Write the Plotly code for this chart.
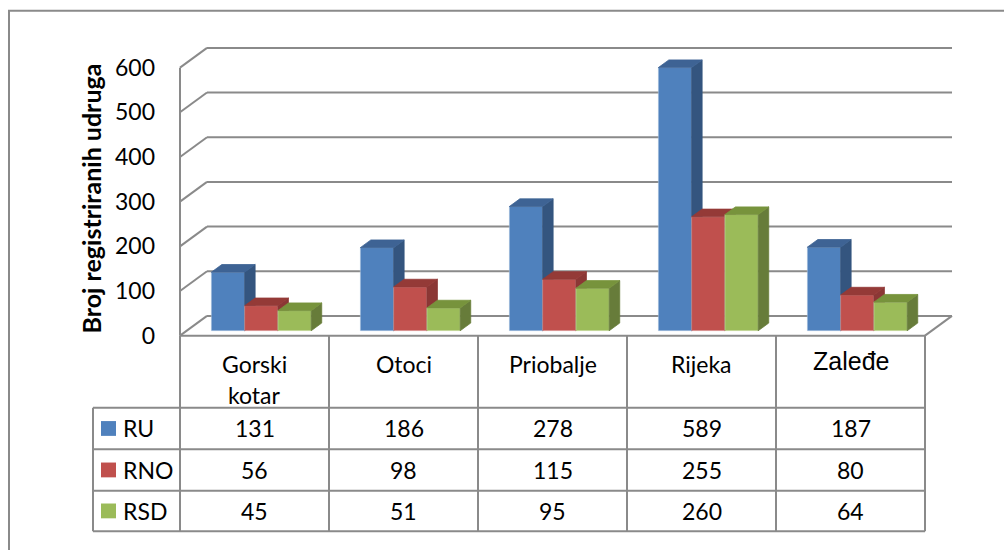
import plotly.graph_objects as go

# ---------------- data ----------------
categories = ["Gorski<br>kotar", "Otoci", "Priobalje", "Rijeka", "Zaleđe"]
series_names = ["RU", "RNO", "RSD"]
ru = [131, 186, 278, 589, 187]
rno = [56, 98, 115, 255, 80]
rsd = [45, 51, 95, 260, 64]
y_ticks = [0, 100, 200, 300, 400, 500, 600]
y_title = "Broj registriranih udruga"

# ---------------- styles / layout constants ----------------
series_values = [ru, rno, rsd]
front_colors = ["#4F81BD", "#C0504D", "#9BBB59"]
side_colors = ["#34557F", "#8B3735", "#677C3A"]
top_colors = ["#3E6394", "#943A37", "#77933C"]
edge_colors = ["rgba(200,215,235,0.55)", "rgba(240,200,200,0.55)", "rgba(225,238,200,0.55)"]
GRID = "#8A8A8A"
FONT = "Lato"
FS = 23

W, H = 1004, 550
OFF = 0            # body margin is reset to 0 in the page (post_script)
CAT_PX = 149.0     # pixels per category
VAL_PX = 0.4525    # pixels per unit of value
X0_PX = 180.0      # screen x of the front-left corner (x = -0.5)
Y0_PX = 340.0      # screen y of value 0 on the front plane
DEPTH_DX = 27.0    # 3D depth shift (px) front -> back wall
DEPTH_DY = 20.0
BAR_D0, BAR_D1 = 0.25, 0.64
BAR_W = 33.3 / CAT_PX
LINE_GAP = 32


def x_of_px(p):
    return -0.5 + (p - X0_PX) / CAT_PX


def v_of_px(p):
    return (Y0_PX - p) / VAL_PX


def pt(x, v, d):
    return (x + DEPTH_DX * d / CAT_PX, v + DEPTH_DY * d / VAL_PX)


def px_x(p):
    return (p - OFF) / W


def px_y(p):
    return 1 - (p - OFF) / H


def poly_trace(polys, color, line_color):
    xs, ys = [], []
    for poly in polys:
        for (x, y) in poly + [poly[0]]:
            xs.append(x)
            ys.append(y)
        xs.append(None)
        ys.append(None)
    return go.Scatter(x=xs, y=ys, mode="lines", fill="toself", fillcolor=color,
                      line=dict(color=line_color, width=0.8),
                      hoverinfo="skip", showlegend=False)


fig = go.Figure()

# ---------------- 3D bars ----------------
n = len(categories)
for k, vals in enumerate(series_values):
    fronts, sides, tops = [], [], []
    for i, v in enumerate(vals):
        xl = i + (k - 1.5) * BAR_W
        xr = xl + BAR_W
        fronts.append([pt(xl, 0, BAR_D0), pt(xr, 0, BAR_D0), pt(xr, v, BAR_D0), pt(xl, v, BAR_D0)])
        sides.append([pt(xr, 0, BAR_D0), pt(xr, 0, BAR_D1), pt(xr, v, BAR_D1), pt(xr, v, BAR_D0)])
        tops.append([pt(xl, v, BAR_D0), pt(xr, v, BAR_D0), pt(xr, v, BAR_D1), pt(xl, v, BAR_D1)])
    fig.add_trace(poly_trace(fronts, front_colors[k], edge_colors[k]))
    fig.add_trace(poly_trace(sides, side_colors[k], side_colors[k]))
    fig.add_trace(poly_trace(tops, top_colors[k], top_colors[k]))

# ---------------- walls / gridlines ----------------
shapes = []


def dline(a, b, layer="below"):
    shapes.append(dict(type="line", xref="x", yref="y", x0=a[0], y0=a[1], x1=b[0], y1=b[1],
                       line=dict(color=GRID, width=2), layer=layer))


xL, xR = -0.5, n - 0.5
for t in y_ticks:
    dline(pt(xL, t, 0), pt(xL, t, 1))
    dline(pt(xL, t, 1), pt(xR, t, 1))
dline(pt(xL, 0, 0), pt(xL, y_ticks[-1], 0))
dline(pt(xL, 0, 0), pt(xR, 0, 0))
dline(pt(xR, 0, 0), pt(xR, 0, 1))

# ---------------- data table ----------------
col_edges = [X0_PX + CAT_PX * c for c in range(n + 1)]
head_top = 340
row_edges = [413, 455, 497, 538]
left_x = 93


def pline(x0, y0, x1, y1):
    shapes.append(dict(type="line", xref="paper", yref="paper",
                       x0=px_x(x0), y0=px_y(y0), x1=px_x(x1), y1=px_y(y1),
                       line=dict(color=GRID, width=2), layer="above"))


for ry in row_edges:
    pline(left_x, ry, col_edges[-1], ry)
pline(left_x, row_edges[0], left_x, row_edges[-1])
for cx in col_edges:
    pline(cx, head_top, cx, row_edges[-1])

# outer border (chart area frame)
shapes.append(dict(type="rect", xref="paper", yref="paper", x0=px_x(9), y0=px_y(11),
                   x1=px_x(W + 20), y1=px_y(H + 20), line=dict(color=GRID, width=2),
                   fillcolor="rgba(0,0,0,0)", layer="below"))

annotations = []
# header labels
for i, cat in enumerate(categories):
    cx = (col_edges[i] + col_edges[i + 1]) / 2
    if cat == "Zaleđe":
        f = dict(family="Liberation Sans, Arial", size=25, color="black")
        ytop = 349
    else:
        f = dict(family=FONT, size=FS, color="black")
        ytop = 352
    for j, line in enumerate(cat.split("<br>")):
        annotations.append(dict(text=line, xref="paper", yref="paper", x=px_x(cx),
                                y=px_y(ytop + j * LINE_GAP),
                                xanchor="center", yanchor="top", showarrow=False, font=f))

# rows
for k, (name, vals) in enumerate(zip(series_names, series_values)):
    rc = (row_edges[k] + row_edges[k + 1]) / 2
    shapes.append(dict(type="rect", xref="paper", yref="paper",
                       x0=px_x(101), x1=px_x(116), y0=px_y(rc - 7.5), y1=px_y(rc + 7.5),
                       fillcolor=front_colors[k], line=dict(width=0), layer="above"))
    annotations.append(dict(text=name, xref="paper", yref="paper", x=px_x(121), y=px_y(rc),
                            xanchor="left", yanchor="middle", showarrow=False,
                            font=dict(family=FONT, size=FS, color="black")))
    for i, v in enumerate(vals):
        cx = (col_edges[i] + col_edges[i + 1]) / 2
        annotations.append(dict(text=str(v), xref="paper", yref="paper", x=px_x(cx), y=px_y(rc),
                                xanchor="center", yanchor="middle", showarrow=False,
                                font=dict(family=FONT, size=FS, color="black")))

# y axis title
annotations.append(dict(text="<b>" + y_title + "</b>", xref="paper", yref="paper",
                        x=px_x(91), y=px_y(201), textangle=-90, xanchor="center",
                        yanchor="middle", showarrow=False,
                        font=dict(family=FONT, size=25, color="black")))

dom_left_px, dom_top_px, dom_bot_px = 170, 0, 346
fig.update_layout(
    width=W, height=H, autosize=False,
    margin=dict(l=0, r=0, t=0, b=0),
    paper_bgcolor="white", plot_bgcolor="white",
    showlegend=False, hovermode=False,
    shapes=shapes, annotations=annotations,
    xaxis=dict(domain=[px_x(dom_left_px), 1], range=[x_of_px(dom_left_px), x_of_px(W + OFF)],
               visible=False, fixedrange=True),
    yaxis=dict(domain=[px_y(dom_bot_px), px_y(dom_top_px)],
               range=[v_of_px(dom_bot_px), v_of_px(dom_top_px)],
               tickvals=y_ticks, ticktext=[str(t) for t in y_ticks],
               showgrid=False, zeroline=False, showline=False, ticks="",
               ticklabelstandoff=14,
               tickfont=dict(family=FONT, size=FS, color="black"), fixedrange=True),
)

fig.write_html("out.html", config={"displayModeBar": False},
               post_script="document.body.style.margin='0';document.body.style.overflow='hidden';")
